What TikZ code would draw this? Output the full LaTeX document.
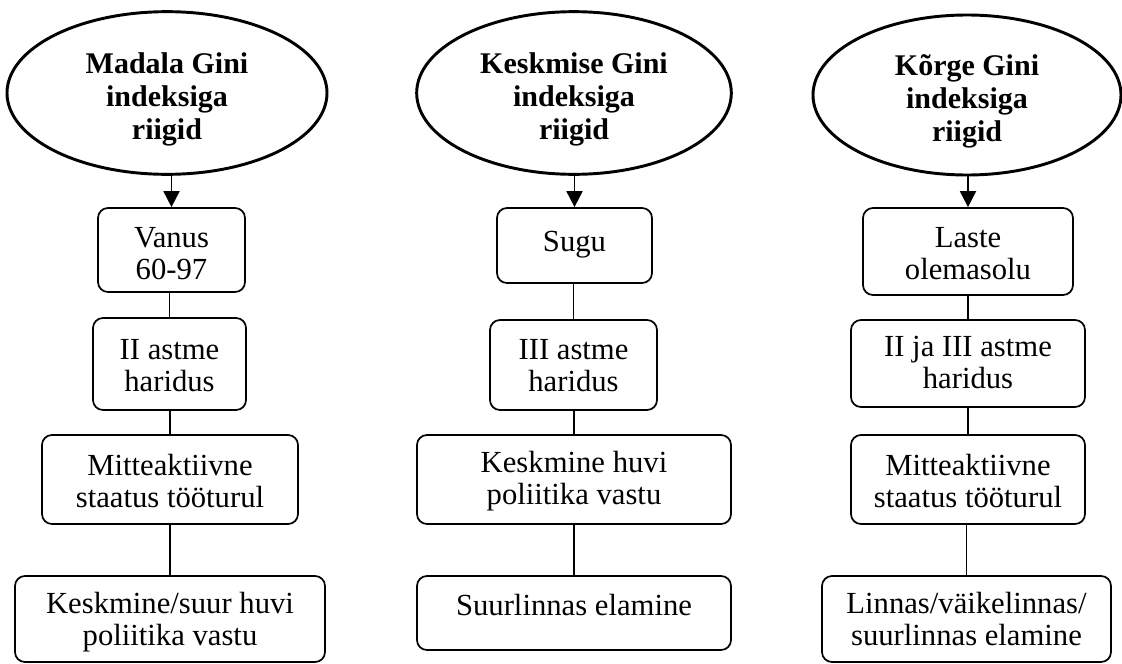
\documentclass[tikz,border=0pt]{standalone}
\usepackage{fontspec}
\setmainfont{Liberation Serif}
\usetikzlibrary{shapes.geometric,arrows.meta}
\newcommand\mybox[7]{\node[bx,minimum width={(#3-#2)*0.75pt},minimum height={(#5-#4)*0.75pt}] (#1) at ({(#2+#3)/2},{(#4+#5)/2}) {\raisebox{#6}[\height][\depth]{\begin{tabular}{@{}c@{}}#7\end{tabular}}};}
\newcommand\elltext[1]{\raisebox{-5pt}[\height][\depth]{\begin{tabular}{@{}c@{}}#1\end{tabular}}}
\begin{document}
\begin{tikzpicture}[x=0.75pt,y=-0.75pt,
 ell/.style={ellipse,draw,line width=2.2pt,inner sep=0pt,align=center,font=\fontsize{22.5}{25}\selectfont\bfseries},
 bx/.style={draw,line width=1.3pt,rounded corners=7.5pt,inner sep=0pt,align=center,font=\fontsize{23}{24}\selectfont},
 link/.style={line width=1pt},
 arr/.style={line width=1.4pt,-{Triangle[length=12pt,width=12pt]}}]
\useasboundingbox (0,0) rectangle (1122,664);
% ellipses
\node[ell,minimum width=240pt,minimum height=122pt] (E1) at (167,93) {\elltext{Madala Gini\\indeksiga\\riigid}};
\node[ell,minimum width=236pt,minimum height=122pt] (E2) at (574,93) {\elltext{Keskmise Gini\\indeksiga\\riigid}};
\node[ell,minimum width=231pt,minimum height=120pt] (E3) at (967,95) {\elltext{Kõrge Gini\\indeksiga\\riigid}};
% column 1
\mybox{A1}{98}{245}{208}{292}{-5pt}{Vanus\\60-97}
\mybox{A2}{93}{246}{318}{410}{-4pt}{II astme\\haridus}
\mybox{A3}{42}{298}{435}{524}{-4pt}{Mitteaktiivne\\staatus tööturul}
\mybox{A4}{15}{325}{576}{662}{-3pt}{Keskmine/suur huvi\\poliitika vastu}
% column 2
\mybox{B1}{497}{652}{208}{283}{0pt}{Sugu}
\mybox{B2}{490}{657}{320}{410}{-3pt}{III astme\\haridus}
\mybox{B3}{417}{731}{435}{524}{-2pt}{Keskmine huvi\\poliitika vastu}
\mybox{B4}{417}{731}{576}{650}{3pt}{Suurlinnas elamine}
% column 3
\mybox{C1}{863}{1073}{208}{295}{-4pt}{Laste\\olemasolu}
\mybox{C2}{851}{1085}{320}{407}{-2pt}{II ja III astme\\haridus}
\mybox{C3}{851}{1085}{435}{524}{-4pt}{Mitteaktiivne\\staatus tööturul}
\mybox{C4}{822}{1111}{576}{662}{-3pt}{Linnas/väikelinnas/\\suurlinnas elamine}
% arrows
\draw[arr] (A1.north |- E1.south) -- (A1.north);
\draw[arr] (B1.north |- E2.south) -- (B1.north);
\draw[arr] (C1.north |- E3.south) -- (C1.north);
% links
\draw[link] (A2.north |- A1.south) -- (A2.north);
\draw[link] (A3.north |- A2.south) -- (A3.north);
\draw[link] (A4.north |- A3.south) -- (A4.north);
\draw[link] (B2.north |- B1.south) -- (B2.north);
\draw[link] (B3.north |- B2.south) -- (B3.north);
\draw[link] (B4.north |- B3.south) -- (B4.north);
\draw[link] (C2.north |- C1.south) -- (C2.north);
\draw[link] (C3.north |- C2.south) -- (C3.north);
\draw[link] (C4.north |- C3.south) -- (C4.north);
\end{tikzpicture}
\end{document}
